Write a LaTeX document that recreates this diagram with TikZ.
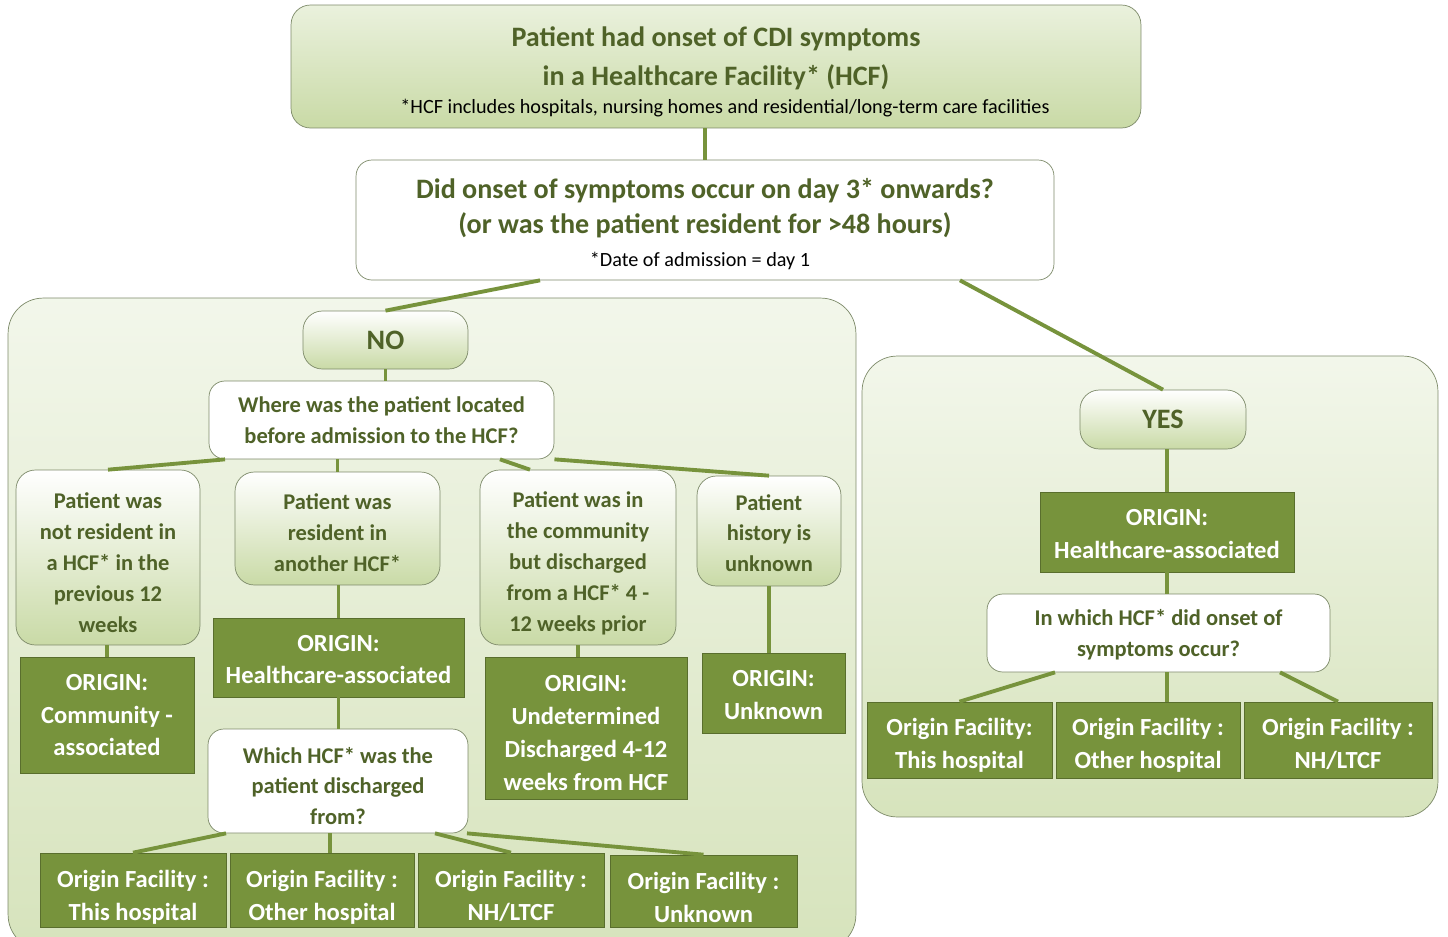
\documentclass[tikz,border=0pt]{standalone}
\usepackage{fontspec}
\setmainfont{Carlito}
\usepackage{tikz}
\usetikzlibrary{shapes,positioning}
\definecolor{cdgreen}{RGB}{119,147,60}
\definecolor{cdtext}{RGB}{79,98,40}
\definecolor{cdpale}{RGB}{234,241,221}
\definecolor{cdlight}{RGB}{201,218,166}
\definecolor{cdedge}{RGB}{125,138,105}
\newcommand{\boxstrut}[1]{\rule{0pt}{#1}}
\tikzstyle{link} = [line width=2.2pt, color=cdgreen]
\tikzstyle{panel} = [rectangle, rounded corners=20pt, draw=cdedge, top color=cdpale!60!white, bottom color=cdlight!75]
\tikzstyle{ansbox} = [rectangle, rounded corners=11pt, draw=cdedge, top color=white, bottom color=cdlight, text=cdtext, align=center, inner sep=0pt, font={\fontsize{16}{19}\selectfont\bfseries}]
\tikzstyle{qbox} = [rectangle, rounded corners=9pt, draw=cdedge, fill=white, text=cdtext, align=center, inner sep=0pt, text depth=0pt, font={\fontsize{12.8}{17.6}\selectfont\bfseries}]
\tikzstyle{sbox} = [rectangle, rounded corners=11pt, draw=cdedge, top color=white, bottom color=cdlight, text=cdtext, align=center, inner sep=0pt, text depth=0pt, font={\fontsize{12.8}{17.6}\selectfont\bfseries}]
\tikzstyle{obox} = [rectangle, draw=cdgreen!75!black, fill=cdgreen, text=white, align=center, inner sep=0pt, text depth=0pt, font={\fontsize{14}{18.7}\selectfont\bfseries}]
\tikzstyle{bigtext} = [text=cdtext, align=center, font={\fontsize{16}{22}\selectfont\bfseries}]
\tikzstyle{smalltext} = [text=black, align=center, font={\fontsize{11.5}{13}\selectfont}]

\begin{document}
\begin{tikzpicture}[x=0.02cm, y=-0.02cm]
\clip (0,0) rectangle (1448,937);
\fill[white] (0,0) rectangle (1448,937);

% Panels behind the two branches
\node[panel, minimum width=16.96cm, minimum height=13.04cm] at (432,624) (nopanel) {};
\node[panel, minimum width=11.52cm, minimum height=9.22cm] at (1150,586.5) (yespanel) {};

% Top question
\node[ansbox, top color=cdpale, bottom color=cdlight, minimum width=17cm, minimum height=2.46cm] at (716,66.5) (top) {};
\node[bigtext] at (716,58) (toptitle) {Patient had onset of CDI symptoms\\in a Healthcare Facility* (HCF)};
\node[smalltext] at (725,108) (topnote) {*HCF includes hospitals, nursing homes and residential/long-term care facilities};

\node[qbox, minimum width=13.96cm, minimum height=2.4cm] at (705,220) (q1) {};
\node[bigtext, font={\fontsize{16}{19.8}\selectfont\bfseries}] at (705,208) (q1title) {Did onset of symptoms occur on day 3* onwards?\\(or was the patient resident for >48 hours)};
\node[smalltext] at (700,261) (q1note) {*Date of admission = day 1};

% NO branch
\node[ansbox, minimum width=3.3cm, minimum height=1.16cm] at (385.5,340) (no) {NO};
\node[qbox, minimum width=6.9cm, minimum height=1.56cm] at (381.5,420) (where) {Where was the patient located\\before admission to the HCF?};

\node[sbox, minimum width=3.68cm, minimum height=3.5cm] at (108,557.5) (p1) {\boxstrut{14.7pt}Patient was\\not resident in\\a HCF* in the\\previous 12\\weeks};
\node[sbox, minimum width=4.1cm, minimum height=2.26cm] at (337.5,528.5) (p2) {\boxstrut{13.5pt}Patient was\\resident in\\another HCF*};
\node[sbox, minimum width=3.92cm, minimum height=3.5cm] at (578,557.5) (p3) {\boxstrut{13.5pt}Patient was in\\the community\\but discharged\\from a HCF* 4 -\\12 weeks prior};
\node[sbox, minimum width=2.88cm, minimum height=2.2cm] at (769,531) (p4) {\boxstrut{11.3pt}Patient\\history is\\unknown};

\node[obox, minimum width=3.48cm, minimum height=2.32cm] at (107,715) (o1) {ORIGIN:\\Community -\\associated};
\node[obox, minimum width=5.02cm, minimum height=1.58cm] at (338.5,657.5) (o2) {\boxstrut{11.3pt}ORIGIN:\\Healthcare-associated};
\node[obox, minimum width=4.04cm, minimum height=2.84cm] at (586,728) (o3) {\boxstrut{14.7pt}ORIGIN:\\Undetermined\\Discharged 4-12\\weeks from HCF};
\node[obox, minimum width=2.86cm, minimum height=1.6cm] at (773.5,693) (o4) {\boxstrut{11.3pt}ORIGIN:\\Unknown};

\node[qbox, minimum width=5.2cm, minimum height=2.08cm] at (338,781) (which) {\boxstrut{14.7pt}Which HCF* was the\\patient discharged\\from?};

\node[obox, minimum width=3.72cm, minimum height=1.48cm] at (133,890) (f1) {\boxstrut{15.5pt}Origin Facility :\\This hospital};
\node[obox, minimum width=3.68cm, minimum height=1.48cm] at (322,890) (f2) {\boxstrut{15.5pt}Origin Facility :\\Other hospital};
\node[obox, minimum width=3.72cm, minimum height=1.48cm] at (511,890) (f3) {\boxstrut{15.5pt}Origin Facility :\\NH/LTCF};
\node[obox, minimum width=3.74cm, minimum height=1.44cm] at (703.5,891) (f4) {\boxstrut{16.6pt}Origin Facility :\\Unknown};

% YES branch
\node[ansbox, minimum width=3.32cm, minimum height=1.18cm] at (1163,419.5) (yes) {YES};
\node[obox, minimum width=5.08cm, minimum height=1.6cm] at (1167,532) (oy) {\boxstrut{11.3pt}ORIGIN:\\Healthcare-associated};
\node[qbox, minimum width=6.86cm, minimum height=1.56cm] at (1158.5,633) (which2) {In which HCF* did onset of\\symptoms occur?};

\node[obox, minimum width=3.7cm, minimum height=1.52cm] at (959.5,740) (y1) {\boxstrut{13.2pt}Origin Facility:\\This hospital};
\node[obox, minimum width=3.68cm, minimum height=1.52cm] at (1148,740) (y2) {\boxstrut{13.2pt}Origin Facility :\\Other hospital};
\node[obox, minimum width=3.76cm, minimum height=1.52cm] at (1338,740) (y3) {\boxstrut{13.2pt}Origin Facility :\\NH/LTCF};

% Connectors
\draw[link] (q1.north) -- (q1.north |- top.south);
\draw[link] ([xshift=-3.3cm]q1.south) -- (no.north);
\draw[link] ([xshift=5.1cm]q1.south) -- (yes.north);
\draw[link] (no.south) -- (no.south |- where.north);
\draw[link] ([xshift=-3.13cm]where.south) -- (p1.north);
\draw[link] (p2.north) -- (p2.north |- where.south);
\draw[link] ([xshift=2.37cm]where.south) -- ([xshift=-0.96cm]p3.north);
\draw[link] ([xshift=3.46cm]where.south) -- (p4.north);
\draw[link] (o1.north) -- (o1.north |- p1.south);
\draw[link] (o2.north) -- (o2.north |- p2.south);
\draw[link] (p3.south) -- (p3.south |- o3.north);
\draw[link] (p4.south) -- (p4.south |- o4.north);
\draw[link] (o2.south) -- (o2.south |- which.north);
\draw[link] ([xshift=-2.24cm]which.south) -- (f1.north);
\draw[link] ([xshift=0.16cm]f2.north) -- ([xshift=0.16cm]f2.north |- which.south);
\draw[link] ([xshift=1.94cm]which.south) -- (f3.north);
\draw[link] ([xshift=2.58cm]which.south) -- (f4.north);
\draw[link] (oy.north) -- (oy.north |- yes.south);
\draw[link] (oy.south) -- (oy.south |- which2.north);
\draw[link] ([xshift=-2.07cm]which2.south) -- (y1.north);
\draw[link] (oy.south |- which2.south) -- (oy.south |- y2.north);
\draw[link] ([xshift=2.43cm]which2.south) -- (y3.north);
\end{tikzpicture}
\end{document}
